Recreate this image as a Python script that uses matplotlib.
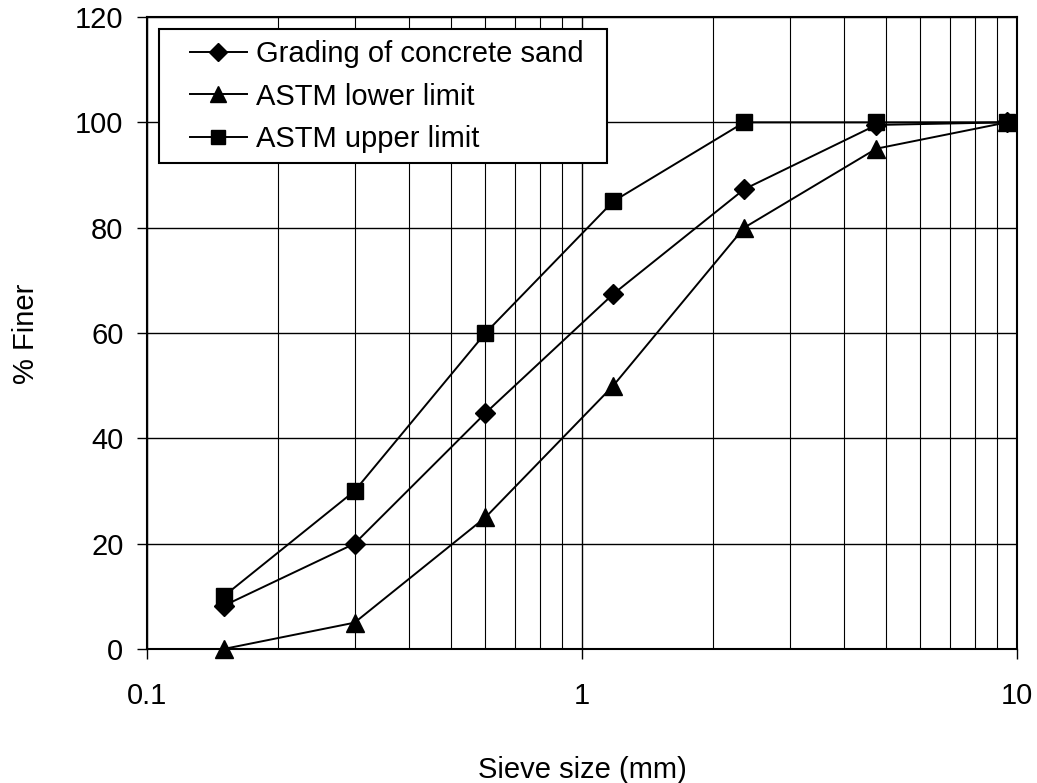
import matplotlib
matplotlib.use("Agg")
import matplotlib.pyplot as plt
from matplotlib.patches import Rectangle
from matplotlib.ticker import FixedLocator, LogLocator, NullFormatter

plt.rcParams['font.family'] = ['Liberation Sans', 'DejaVu Sans']

sieve_mm = [0.15, 0.3, 0.6, 1.18, 2.36, 4.75, 9.5]
grading = [8.2, 20, 44.8, 67.4, 87.3, 99.5, 100]
lower = [0, 5, 25, 50, 80, 95, 100]
upper = [10, 30, 60, 85, 100, 100, 100]

labels = ["Grading of concrete sand", "ASTM lower limit", "ASTM upper limit"]
y_ticks = [0, 20, 40, 60, 80, 100, 120]
x_ticks = [0.1, 1, 10]
x_tick_labels = ["0.1", "1", "10"]

fs = 21
W, H = 1037, 783

fig = plt.figure(figsize=(W / 100, H / 100), dpi=100)
ax = fig.add_axes([147 / W, 1 - 649 / H, 870 / W, 632 / H])

ax.set_xscale('log')
ax.set_xlim(0.1, 10)
ax.set_ylim(0, 120)

lw = 1.4
ax.plot(sieve_mm, grading, color='black', lw=lw, marker='D', markersize=10, label=labels[0], zorder=5, clip_on=False)
ax.plot(sieve_mm, lower, color='black', lw=lw, marker='^', markersize=13, label=labels[1], zorder=5, clip_on=False)
ax.plot(sieve_mm, upper, color='black', lw=lw, marker='s', markersize=11.5, label=labels[2], zorder=5, clip_on=False)

ax.xaxis.set_major_locator(FixedLocator(x_ticks))
ax.set_xticklabels(x_tick_labels)
ax.xaxis.set_minor_locator(LogLocator(base=10, subs=range(2, 10)))
ax.xaxis.set_minor_formatter(NullFormatter())
ax.set_yticks(y_ticks)

ax.grid(True, which='major', axis='both', color='black', lw=1.0)
ax.grid(True, which='minor', axis='x', color='black', lw=0.8)

ax.tick_params(axis='both', which='major', labelsize=fs, direction='out', length=7, width=1, colors='black')
ax.tick_params(axis='y', which='major', pad=10)
ax.tick_params(axis='x', which='minor', length=0)
ax.tick_params(axis='x', which='major', pad=17)

for s in ax.spines.values():
    s.set_linewidth(1.5)
    s.set_color('black')

fig.text(582 / W, 1 - 778 / H, "Sieve size (mm)", fontsize=fs, ha='center', va='baseline')
fig.text(26 / W, 1 - 334 / H, "% Finer", fontsize=fs, ha='center', va='center', rotation=90)

frame = Rectangle((159 / W, 1 - 163 / H), 448 / W, 134 / H, transform=fig.transFigure,
                  facecolor='white', edgecolor='black', lw=1.5, zorder=6)
ax.add_patch(frame)

leg = ax.legend(loc='upper left', bbox_to_anchor=(190 / W, 1 - 40 / H), bbox_transform=fig.transFigure,
                fontsize=fs, frameon=False, handlelength=1.95, markerscale=0.9,
                handletextpad=0.3, labelspacing=0.5, borderpad=0, borderaxespad=0)
leg.set_zorder(7)

fig.savefig("out.png", dpi=100)
